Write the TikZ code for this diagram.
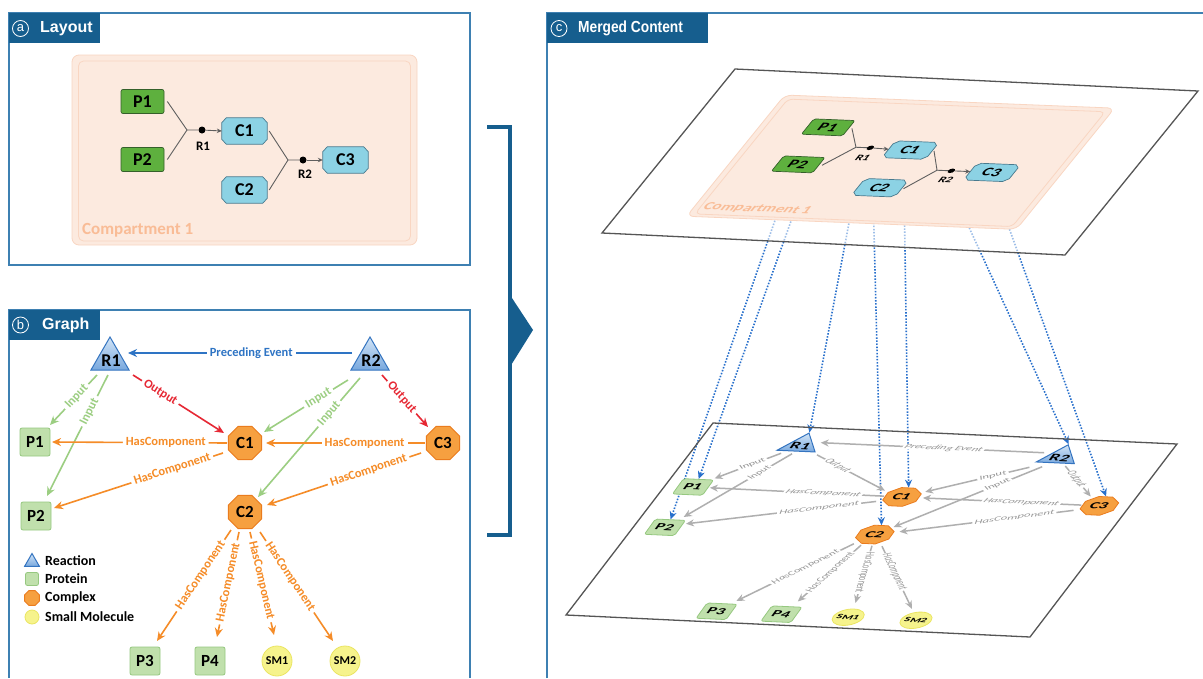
\documentclass[tikz,border=0pt]{standalone}
\usepackage{fontspec}
\setmainfont{Carlito}
\newfontfamily\tabfont{Liberation Sans}
\newfontfamily\tabnarrow[FakeStretch=0.86]{Liberation Sans}
\usetikzlibrary{arrows.meta,shapes.geometric,calc}

\newcommand\fsz[1]{\fontsize{#1}{#1}\selectfont}

% palette
\definecolor{tabblue}{RGB}{22,94,142}
\definecolor{framecol}{RGB}{62,128,178}
\definecolor{compfill}{RGB}{252,234,223}
\definecolor{compedge}{RGB}{249,214,194}
\definecolor{compcol}{RGB}{249,188,150}
\definecolor{lprotfill}{RGB}{94,176,62}
\definecolor{lprotdraw}{RGB}{52,96,42}
\definecolor{lcplxfill}{RGB}{140,210,228}
\definecolor{lcplxdraw}{RGB}{72,122,142}
\definecolor{lineg}{RGB}{95,95,95}
\definecolor{rxntop}{RGB}{210,228,246}
\definecolor{rxnbot}{RGB}{120,168,222}
\definecolor{rxndraw}{RGB}{52,116,192}
\definecolor{protfill}{RGB}{192,224,172}
\definecolor{protdraw}{RGB}{150,200,128}
\definecolor{cplxfill}{RGB}{246,160,64}
\definecolor{cplxdraw}{RGB}{234,124,30}
\definecolor{smfill}{RGB}{246,243,140}
\definecolor{smdraw}{RGB}{234,229,98}
\definecolor{precblue}{RGB}{46,116,196}
\definecolor{inpgreen}{RGB}{156,206,130}
\definecolor{outred}{RGB}{230,40,52}
\definecolor{hasorange}{RGB}{245,140,40}
\definecolor{edgegray}{RGB}{175,175,175}
\definecolor{labgray}{RGB}{150,150,150}
\definecolor{linkblue}{RGB}{40,112,204}
\definecolor{planegray}{RGB}{85,85,85}

\pgfdeclarelayer{bg}
\pgfdeclarelayer{links}
\pgfsetlayers{bg,links,main}

\tikzset{
  frame/.style={draw=framecol, line width=1.3pt},
  tab/.style={fill=tabblue, draw=none},
  tabtxt/.style={text=white, font=\tabfont\bfseries\fsz{16}, anchor=west, inner sep=0pt},
  circl/.style={circle, draw=white, line width=0.8pt, inner sep=0pt, minimum size=16pt, text=white, font=\tabfont\fsz{13}},
  % layout (process diagram)
  compbox/.style={rectangle, rounded corners=7pt, minimum width=345pt, minimum height=190pt, fill=compfill, draw=compedge, line width=0.8pt},
  compinner/.style={rectangle, rounded corners=5pt, minimum width=332pt, minimum height=180pt, draw=compedge, line width=0.8pt},
  complab/.style={text=compcol, font=\bfseries\fsz{17}, inner sep=0pt},
  lprot/.style={rectangle, rounded corners=2pt, minimum width=43pt, minimum height=24pt, fill=lprotfill, draw=lprotdraw, line width=0.7pt, font=\bfseries\fsz{18}, inner sep=0pt},
  lcplxbox/.style={rectangle, minimum width=45pt, minimum height=26pt, inner sep=0pt},
  lcplxshape/.style={fill=lcplxfill, draw=lcplxdraw, line width=0.7pt},
  lcplxtext/.style={font=\bfseries\fsz{18}, inner sep=0pt},
  rdot/.style={circle, fill=black, minimum size=7pt, inner sep=0pt},
  rlab/.style={font=\bfseries\fsz{13}, inner sep=0pt},
  lline/.style={draw=lineg, line width=0.9pt},
  larrow/.style={-{Stealth[length=5pt,width=4.5pt]}},
  % graph
  rxn/.style={regular polygon, regular polygon sides=3, minimum size=44pt, inner sep=0pt, draw=rxndraw, line width=1pt, top color=rxntop, bottom color=rxnbot},
  rxnlab/.style={font=\bfseries\fsz{18}, inner sep=0pt},
  prot/.style={rectangle, rounded corners=2pt, minimum width=30pt, minimum height=28pt, fill=protfill, draw=protdraw, line width=0.8pt, font=\bfseries\fsz{17}, inner sep=0pt},
  cplx/.style={regular polygon, regular polygon sides=8, minimum size=36pt, inner sep=0pt, fill=cplxfill, draw=cplxdraw, line width=0.8pt, font=\bfseries\fsz{17}},
  smol/.style={circle, minimum size=30pt, inner sep=0pt, fill=smfill, draw=smdraw, line width=0.8pt, font=\bfseries\fsz{12}},
  gedge/.style={line width=1.6pt, -{Stealth[length=9pt,width=8pt]}},
  prec/.style={gedge, color=precblue},
  inp/.style={gedge, color=inpgreen},
  outp/.style={gedge, color=outred},
  hasc/.style={gedge, color=hasorange},
  elab/.style={sloped, fill=white, inner xsep=3pt, inner ysep=0.5pt, font=\bfseries\fsz{12.5}},
  legtxt/.style={anchor=west, inner sep=0pt, font=\bfseries\fsz{14}},
  % merged view
  gedgegray/.style={line width=1.5pt, color=edgegray, -{Stealth[length=8pt,width=7pt]}},
  grayplane/.style={
    prec/.style={gedgegray}, inp/.style={gedgegray},
    outp/.style={gedgegray}, hasc/.style={gedgegray},
    elab/.style={sloped, fill=white, inner xsep=2pt, inner ysep=0pt, text=labgray, font=\itshape\fsz{12}}},
  plane/.style={draw=planegray, line width=1.3pt},
  link/.style={draw=linkblue, line width=1.6pt, dash pattern=on 1.5pt off 1.6pt,
    {Stealth[length=8pt,width=7pt]}-{Stealth[length=8pt,width=7pt]}, shorten <=3pt},
  bracket/.style={draw=tabblue, line width=4.5pt},
}

% rectangle with cut corners drawn over the anchors of a box node
\newcommand\chamferbox[1]{%
  \filldraw[lcplxshape]
    ($(#1.north west)!0.1!(#1.north east)$) -- ($(#1.north west)!0.9!(#1.north east)$) --
    ($(#1.north east)!0.18!(#1.south east)$) -- ($(#1.north east)!0.82!(#1.south east)$) --
    ($(#1.south east)!0.1!(#1.south west)$) -- ($(#1.south east)!0.9!(#1.south west)$) --
    ($(#1.south west)!0.18!(#1.north west)$) -- ($(#1.south west)!0.82!(#1.north west)$) -- cycle;}

% complex node of the process diagram: box, outline, label
\newcommand\lcomplex[3]{%
  \node[lcplxbox] (#1) at (#2) {};
  \chamferbox{#1}
  \node[lcplxtext] (#1t) at (#1) {#3};}

% compartment with the two-step process
\newcommand\layoutcontent{%
  \node[compbox] (cmp) at (244.5,150) {};
  \node[compinner] (cmpi) at (244.5,151) {};
  \node[complab, anchor=base west] (cmpt) at (82,234) {Compartment 1};
  \node[lprot] (P1) at (142.5,101.5) {P1};
  \node[lprot] (P2) at (142.5,159.5) {P2};
  \lcomplex{C1}{244.5,131}{C1}
  \lcomplex{C2}{244.5,190}{C2}
  \lcomplex{C3}{345.5,160}{C3}
  \node[rdot] (R1) at (202,130) {};
  \node[rdot] (R2) at (303,160) {};
  \node[rlab] (R1t) at (203,146) {R1};
  \node[rlab] (R2t) at (305,174) {R2};
  \coordinate (J1) at (187,130);
  \coordinate (J2) at (288,160);
  \draw[lline] ($(P1.east)+(3,0)$) -- (J1);
  \draw[lline] ($(P2.east)+(3,0)$) -- (J1) -- (R1);
  \draw[lline,larrow] (R1) -- (C1.west);
  \draw[lline] ($(C1.east)+(2,0)$) -- (J2);
  \draw[lline] ($(C2.east)+(2,0)$) -- (J2) -- (R2);
  \draw[lline,larrow] (R2) -- (C3.west);
}

% reactions, proteins, complexes and small molecules as a graph
\newcommand\reactgraph{%
  \node[rxn] (R1) at (110,359) {};
  \node[rxnlab] (R1t) at (111,361) {R1};
  \node[rxn] (R2) at (370,359) {};
  \node[rxnlab] (R2t) at (371,361) {R2};
  \node[prot] (P1) at (35,442) {P1};
  \node[prot] (P2) at (36,516) {P2};
  \node[cplx] (C1) at (245,443) {C1};
  \node[cplx] (C3) at (443,443) {C3};
  \node[cplx] (C2) at (245,512) {C2};
  \node[prot] (P3) at (145,661) {P3};
  \node[prot] (P4) at (210,661) {P4};
  \node[smol] (SM1) at (277,661) {SM1};
  \node[smol] (SM2) at (345,661) {SM2};
  \draw[prec] ($(R2)+(-18,-6)$) -- node[elab,pos=.45] {Preceding Event} ($(R1)+(18,-6)$);
  \draw[inp] ($(R1)+(-13,16)$) -- node[elab,pos=.43] {Input} ($(P1)+(15,-17)$);
  \draw[inp] ($(R1)+(-2,16)$) -- node[elab,pos=.3] {Input} ($(P2)+(11,-20)$);
  \draw[outp] ($(R1)+(23,16)$) -- node[elab,pos=.3] {Output} ($(C1)+(-21,-10)$);
  \draw[inp] ($(R2)+(-22,21)$) -- node[elab,pos=.35] {Input} ($(C1)+(19,-11)$);
  \draw[inp] ($(R2)+(-10,19)$) -- node[elab,pos=.3] {Input} ($(C2)+(13,-15)$);
  \draw[outp] ($(R2)+(12,16)$) -- node[elab,pos=.43] {Output} ($(C3)+(-15,-16)$);
  \draw[hasc] ($(C1)+(-18,0)$) -- node[elab,pos=.35] {HasComponent} ($(P1)+(17,0)$);
  \draw[hasc] ($(C3)+(-18,0)$) -- node[elab,pos=.38] {HasComponent} ($(C1)+(21,0)$);
  \draw[hasc] ($(C1)+(-22,10)$) -- node[elab,pos=.3] {HasComponent} ($(P2)+(18,-8)$);
  \draw[hasc] ($(C3)+(-22,10)$) -- node[elab,pos=.34] {HasComponent} ($(C2)+(22,-7)$);
  \draw[hasc] ($(C2)+(-14,18)$) -- node[elab,pos=.41] {HasComponent} ($(P3)+(12,-20)$);
  \draw[hasc] ($(C2)+(-6,20)$) -- node[elab,pos=.48] {HasComponent} ($(P4)+(7,-24)$);
  \draw[hasc] ($(C2)+(5,20)$) -- node[elab,pos=.47] {HasComponent} ($(SM1)+(-3,-26)$);
  \draw[hasc] ($(C2)+(15,20)$) -- node[elab,pos=.41] {HasComponent} ($(SM2)+(-12,-20)$);
}

\begin{document}
\begin{tikzpicture}[x=1pt,y=-1pt]
\useasboundingbox (0,0) rectangle (1203,678);
\begin{pgfonlayer}{bg}
  \fill[white] (0,0) rectangle (1203,678);
\end{pgfonlayer}

% ---- panel frames and title tabs
\draw[frame] (9,13) rectangle (470,265);
\draw[frame] (9,678) -- (9,310) -- (470,310) -- (470,678);
\draw[frame] (547,678) -- (547,13) -- (1203,13);
\fill[tab] (9,13) rectangle (100,43);
\fill[tab] (9,310) rectangle (100,340);
\fill[tab] (547,13) rectangle (708,43);
\node[circl] (ca) at (20.5,28.5) {a};
\node[tabtxt] (ta) at (40,28.5) {Layout};
\node[circl] (cb) at (20.5,325) {b};
\node[tabtxt] (tb) at (42,325) {Graph};
\node[circl] (cc) at (559,28.5) {c};
\node[tabtxt, font=\tabnarrow\bfseries\fsz{16}] (tc) at (578,28.5) {Merged Content};

% ---- bracket joining a and b into c
\draw[bracket] (487,127) -- (510,127) -- (510,535) -- (487,535);
\fill[tabblue] (508,292) -- (533,330) -- (508,370) -- cycle;

% ---- panel a
\begin{scope}[name prefix=a-]
  \layoutcontent
\end{scope}

% ---- panel b
\begin{scope}[name prefix=b-]
  \reactgraph
  \node[rxn, minimum size=17pt] (lgR) at (32,562) {};
  \node[legtxt] (lgRt) at (45,561) {Reaction};
  \node[prot, minimum width=13pt, minimum height=13pt] (lgP) at (32,579) {};
  \node[legtxt] (lgPt) at (45,579) {Protein};
  \node[cplx, minimum size=16pt] (lgC) at (32,598) {};
  \node[legtxt] (lgCt) at (45,598) {Complex};
  \node[smol, minimum size=14pt] (lgS) at (32,617) {};
  \node[legtxt] (lgSt) at (45,617) {Small Molecule};
\end{scope}

% ---- panel c: lower plane with the graph
\coordinate (bpA) at (713,423);
\coordinate (bpB) at (1177,444);
\coordinate (bpC) at (1030,637);
\coordinate (bpD) at (566,615);
\draw[plane] (bpA) -- (bpB) -- (bpC) -- (bpD) -- cycle;
\begin{scope}[name prefix=g-, transform shape, grayplane,
    cm={0.997,-0.045,0.393,0.545,(831.8pt,-244.5pt)}]
  \reactgraph
\end{scope}

% ---- panel c: upper plane with the layout
\coordinate (tpA) at (735,69);
\coordinate (tpB) at (1198,91);
\coordinate (tpC) at (1065,255);
\coordinate (tpD) at (602,233);
\fill[white, opacity=0.55] (tpA) -- (tpB) -- (tpC) -- (tpD) -- cycle;
\draw[plane] (tpA) -- (tpB) -- (tpC) -- (tpD) -- cycle;
\begin{scope}[name prefix=t-, transform shape,
    cm={0.956,-0.038,0.517,0.638,(744.4pt,-57.2pt)}]
  \layoutcontent
\end{scope}

% ---- correspondences between the two planes
\begin{pgfonlayer}{links}
  \foreach \n in {P1,P2,C1,C2}
    \draw[link] (t-\n.south) -- (g-\n.north);
  \draw[link] ($(t-C3.south)+(9,6)$) -- (g-C3.north);
  \draw[link] (t-R1t.south) -- (g-R1.north);
  \draw[link] ($(t-R2t.south)+(8,7)$) -- (g-R2.north);
\end{pgfonlayer}
\end{tikzpicture}
\end{document}
